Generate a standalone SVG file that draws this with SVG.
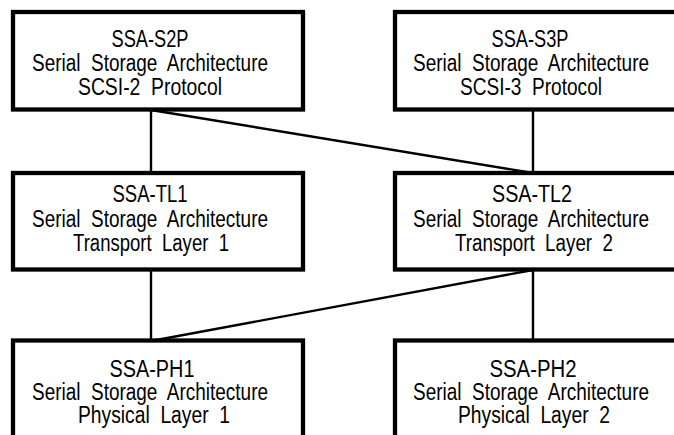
<svg xmlns="http://www.w3.org/2000/svg" width="674" height="435" viewBox="0 0 674 435">
<style>
.box{fill:#fff;stroke:#000;stroke-width:4.3}
.c{stroke:#000;stroke-width:2.4;fill:none}
text{font-family:"Liberation Sans",Arial,sans-serif;font-size:23.5px;fill:#000;text-anchor:middle;white-space:pre}
</style>
<rect width="674" height="435" fill="#fff"/>
<g id="connectors">
<line class="c" x1="151" y1="110" x2="151" y2="173"/>
<line class="c" x1="151" y1="110" x2="533" y2="173"/>
<line class="c" x1="533" y1="110" x2="533" y2="173"/>
<line class="c" x1="151" y1="270" x2="151" y2="341"/>
<line class="c" x1="533" y1="270" x2="151" y2="341"/>
<line class="c" x1="533" y1="270" x2="533" y2="341"/>
</g>
<g id="ssa-s2p">
<rect class="box" x="13" y="12" width="290" height="97.5"/>
<text x="150" y="47" textLength="77" lengthAdjust="spacingAndGlyphs" xml:space="preserve">SSA-S2P</text>
<text x="150" y="71" textLength="236" lengthAdjust="spacingAndGlyphs" xml:space="preserve">Serial  Storage  Architecture</text>
<text x="150" y="95" textLength="144" lengthAdjust="spacingAndGlyphs" xml:space="preserve">SCSI-2  Protocol</text>
</g>
<g id="ssa-s3p">
<rect class="box" x="395" y="12" width="290" height="97.5"/>
<text x="530" y="47" textLength="77" lengthAdjust="spacingAndGlyphs" xml:space="preserve">SSA-S3P</text>
<text x="531" y="71" textLength="236" lengthAdjust="spacingAndGlyphs" xml:space="preserve">Serial  Storage  Architecture</text>
<text x="531" y="95" textLength="142" lengthAdjust="spacingAndGlyphs" xml:space="preserve">SCSI-3  Protocol</text>
</g>
<g id="ssa-tl1">
<rect class="box" x="13" y="173" width="290" height="96.5"/>
<text x="150" y="202" textLength="75" lengthAdjust="spacingAndGlyphs" xml:space="preserve">SSA-TL1</text>
<text x="150" y="227" textLength="236" lengthAdjust="spacingAndGlyphs" xml:space="preserve">Serial  Storage  Architecture</text>
<text x="151" y="251" textLength="156" lengthAdjust="spacingAndGlyphs" xml:space="preserve">Transport  Layer  1</text>
</g>
<g id="ssa-tl2">
<rect class="box" x="395" y="173" width="290" height="96.5"/>
<text x="532" y="202" textLength="80" lengthAdjust="spacingAndGlyphs" xml:space="preserve">SSA-TL2</text>
<text x="531" y="227" textLength="236" lengthAdjust="spacingAndGlyphs" xml:space="preserve">Serial  Storage  Architecture</text>
<text x="534" y="251" textLength="158" lengthAdjust="spacingAndGlyphs" xml:space="preserve">Transport  Layer  2</text>
</g>
<g id="ssa-ph1">
<rect class="box" x="13" y="340.5" width="290" height="200"/>
<text x="152" y="377" textLength="85" lengthAdjust="spacingAndGlyphs" xml:space="preserve">SSA-PH1</text>
<text x="150" y="400" textLength="236" lengthAdjust="spacingAndGlyphs" xml:space="preserve">Serial  Storage  Architecture</text>
<text x="154" y="423" textLength="152" lengthAdjust="spacingAndGlyphs" xml:space="preserve">Physical  Layer  1</text>
</g>
<g id="ssa-ph2">
<rect class="box" x="395" y="340.5" width="290" height="200"/>
<text x="533" y="377" textLength="87" lengthAdjust="spacingAndGlyphs" xml:space="preserve">SSA-PH2</text>
<text x="531" y="400" textLength="236" lengthAdjust="spacingAndGlyphs" xml:space="preserve">Serial  Storage  Architecture</text>
<text x="534" y="423" textLength="152" lengthAdjust="spacingAndGlyphs" xml:space="preserve">Physical  Layer  2</text>
</g>
</svg>
